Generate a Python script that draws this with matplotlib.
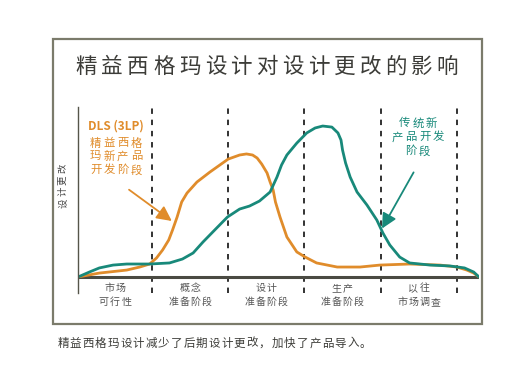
import matplotlib
matplotlib.use("Agg")
import matplotlib.pyplot as plt
from matplotlib.patches import Rectangle

plt.rcParams['font.family'] = ['Noto Sans CJK SC', 'DejaVu Sans']

# data (x in phases, y = relative amount of design change)
phases = ["市场\n可行性", "概念\n准备阶段", "设计\n准备阶段", "生产\n准备阶段", "以往\n市场调查"]
dls_x = [0.03, 0.31, 0.67, 0.84, 0.97, 1.06, 1.14, 1.22, 1.27, 1.33, 1.39, 1.46, 1.59, 1.76,
         2.0, 2.15, 2.24, 2.32, 2.38, 2.44, 2.51, 2.55, 2.59, 2.62, 2.68, 2.77, 2.90, 3.01,
         3.16, 3.43, 3.73, 3.99, 4.38, 4.78, 5.0, 5.13, 5.22, 5.29]
dls_y = [0, 2.6, 4.6, 6.6, 8.6, 12.6, 17.9, 24.5, 31.1, 39.7, 49.7, 55.6, 62.9, 69.5,
         78.1, 80.8, 81.5, 80.8, 78.8, 74.8, 68.9, 62.9, 57.6, 49.7, 39.7, 26.5, 16.6, 13.2,
         9.3, 6.6, 6.6, 7.9, 8.6, 7.9, 6.6, 4.6, 2.6, 0]
trad_x = [0.03, 0.18, 0.31, 0.49, 0.67, 0.97, 1.23, 1.40, 1.54, 1.67, 1.85, 1.99, 2.15, 2.28,
          2.41, 2.55, 2.64, 2.70, 2.77, 2.90, 3.03, 3.14, 3.24, 3.36, 3.44, 3.48, 3.50, 3.54,
          3.60, 3.69, 3.82, 3.95, 4.03, 4.12, 4.25, 4.38, 4.65, 4.91, 5.10, 5.22, 5.29]
trad_y = [0, 3.3, 6.0, 7.9, 8.6, 8.6, 9.3, 11.9, 15.9, 23.2, 32.5, 39.7, 45.0, 47.0,
          50.3, 56.3, 66.2, 74.2, 80.8, 88.7, 95.4, 98.7, 100, 99.3, 95.4, 90.7, 84.1, 75.5,
          66.2, 56.3, 47.7, 37.7, 29.1, 21.2, 13.2, 9.3, 7.9, 7.3, 6.0, 3.3, 0]

orange = "#E08C2B"
teal = "#18897A"
W, H = 516, 381

fig = plt.figure(figsize=(W / 100, H / 100), dpi=100)

def spaced(x, y, s, pitch, **kw):
    # draw characters one by one, x is the centre, both in pixels from top-left
    n = len(s)
    for i, ch in enumerate(s):
        cx = x + (i - (n - 1) / 2) * pitch
        fig.text(cx / W, 1 - y / H, ch, ha='center', va='center', **kw)

# frame
fig.patches.append(Rectangle((53 / W, 1 - 324 / H), 429 / W, 285 / H, transform=fig.transFigure,
                             fill=False, edgecolor="#7b7b6b", linewidth=1.6))

# title
spaced(267, 67, "精益西格玛设计对设计更改的影响", 25.8, fontsize=15.5, color="#3c3c38")

# axes
ax = fig.add_axes([78 / W, 1 - 293 / H, 401 / W, 186 / H])
ax.set_xlim(0.03, 5.29)
ax.set_ylim(-10.6, 112.6)
for s in ["top", "right", "bottom"]:
    ax.spines[s].set_visible(False)
ax.spines["left"].set_color("#55554a")
ax.spines["left"].set_linewidth(1.0)
ax.set_xticks([])
ax.set_yticks([])
ax.patch.set_alpha(0)

for b in range(1, 6):
    ax.axvline(b, color="#222222", linewidth=1.3, linestyle=(0, (3, 3.2)))
ax.axhline(0, color="#4a4a42", linewidth=2.2)

ax.plot(dls_x, dls_y, color=orange, linewidth=2.0, solid_capstyle='round', solid_joinstyle='round')
ax.plot(trad_x, trad_y, color=teal, linewidth=2.0, solid_capstyle='round', solid_joinstyle='round')

# arrows
ax.annotate("", xy=(1.29, 36.0), xytext=(0.67, 58.9),
            arrowprops=dict(arrowstyle="-|>,head_length=0.9,head_width=0.45", color=orange, lw=1.3))
ax.annotate("", xy=(4.00, 30.5), xytext=(4.45, 70.9),
            arrowprops=dict(arrowstyle="-|>,head_length=0.9,head_width=0.45", color=teal, lw=1.3))

# annotation labels
fig.text(116 / W, 1 - 126 / H, "DLS (3LP)", ha='center', va='center', fontsize=8.5,
         color=orange, fontweight='bold')
for s, yy in zip(["精益西格", "玛新产品", "开发阶段"], [143, 156.5, 170]):
    spaced(116, yy, s, 13.5, fontsize=8.2, color=orange)
for s, yy in zip(["传统新", "产品开发", "阶段"], [123, 137, 151]):
    spaced(418, yy, s, 13.5, fontsize=8.2, color=teal)

# y label, rotated, one char at a time (bottom to top)
ylab = "设计更改"
for i, ch in enumerate(ylab):
    fig.text(63 / W, 1 - (203 - i * 11.5) / H, ch, rotation=90, ha='center', va='center',
             fontsize=6.8, color="#444444")

# phase labels
centers = [115, 190, 266, 342, 419]
for c, lab in zip(centers, phases):
    l1, l2 = lab.split("\n")
    spaced(c, 288, l1, 11.3, fontsize=7.2, color="#555555")
    spaced(c, 302, l2, 11.3, fontsize=7.2, color="#555555")

# caption
cap = "精益西格玛设计减少了后期设计更改，加快了产品导入。"
n = len(cap)
spaced(57 + 12.6 * (n - 1) / 2 + 6, 343, cap, 12.6, fontsize=8.3, color="#3c3c38")

fig.savefig("out.png", dpi=100)
